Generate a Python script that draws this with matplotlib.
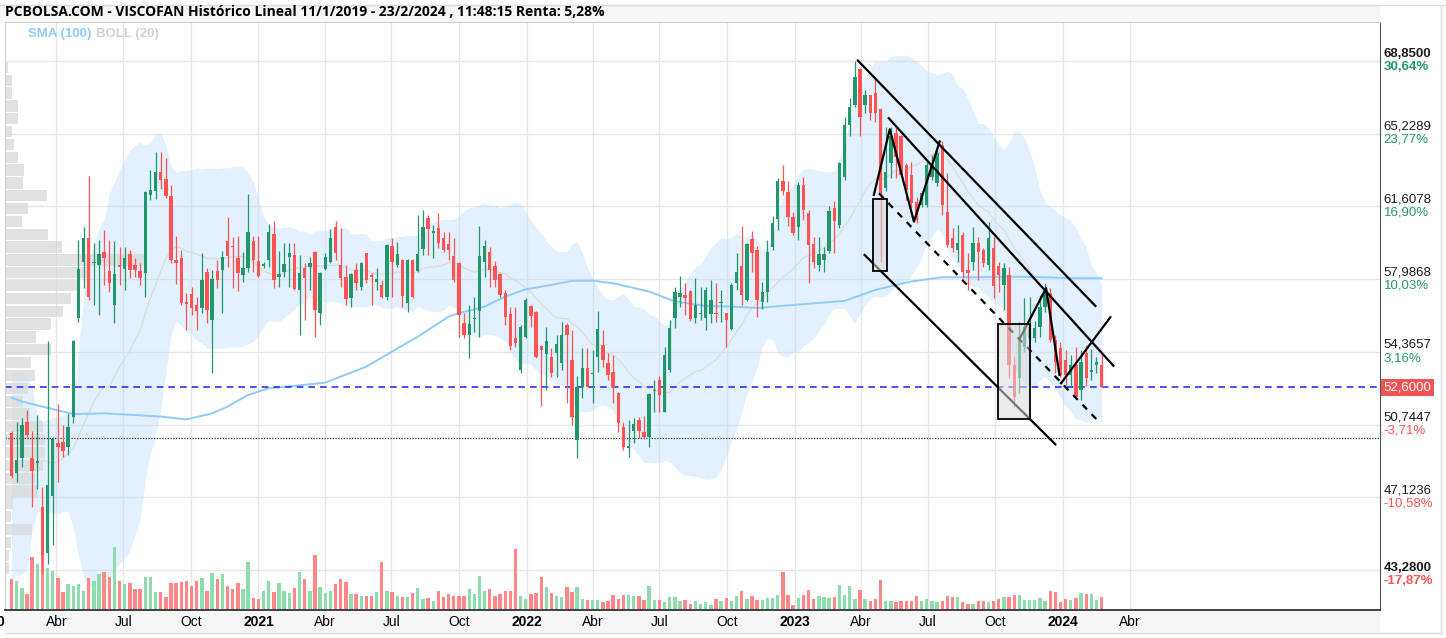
import math
import numpy as np
import pandas as pd
import matplotlib
matplotlib.use("Agg")
import matplotlib.pyplot as plt
import matplotlib.dates as mdates
from matplotlib.patches import Rectangle
from matplotlib.lines import Line2D
from datetime import datetime

plt.rcParams['font.family'] = ['Liberation Sans', 'DejaVu Sans']

# velas semanales VISCOFAN (EUR), la última es la semana del 23/2/2024
apertura = [
    50.31, 48.32, 49.07, 50.89, 49.07, 48.85, 46.62, 44.33, 47.19, 49.81,
    49.90, 49.65, 51.14, 56.04, 58.86, 60.05, 58.78, 58.69, 59.36, 58.41,
    56.70, 58.70, 58.48, 59.24, 58.70, 58.41, 58.28, 62.18, 62.39, 63.34,
    62.96, 62.15, 58.94, 59.03, 56.87, 57.25, 56.70, 56.54, 58.36, 55.95,
    58.41, 58.44, 59.90, 59.66, 59.03, 58.20, 58.53, 59.89, 58.91, 58.66,
    58.94, 60.24, 58.08, 58.36, 59.07, 59.19, 57.45, 58.53, 58.58, 59.36,
    56.32, 58.48, 58.86, 60.57, 58.69, 58.08, 57.03, 58.44, 57.58, 59.27,
    58.20, 57.86, 57.70, 57.12, 59.64, 58.69, 58.94, 56.78, 58.94, 58.41,
    59.47, 61.02, 60.30, 60.55, 60.02, 59.72, 59.14, 58.81, 55.79, 55.20,
    56.00, 56.42, 58.86, 59.36, 58.64, 58.24, 57.31, 56.25, 55.07, 53.46,
    55.12, 56.65, 56.37, 54.66, 54.26, 54.10, 54.29, 53.80, 55.70, 53.96,
    49.98, 52.63, 53.55, 53.25, 54.13, 54.71, 53.83, 53.38, 52.34, 50.64,
    49.60, 50.44, 50.97, 50.39, 50.11, 52.42, 52.97, 51.39, 53.46, 56.04,
    57.12, 57.20, 57.41, 56.04, 56.25, 56.04, 56.25, 56.30, 56.80, 56.28,
    55.49, 57.81, 58.64, 56.95, 59.97, 59.44, 56.87, 57.37, 59.61, 60.97,
    62.89, 62.30, 61.10, 60.57, 62.68, 61.30, 59.74, 58.70, 58.94, 59.41,
    61.52, 60.69, 63.09, 65.67, 66.66, 68.44, 66.66, 67.16, 67.24, 66.45,
    62.51, 63.76, 65.25, 65.09, 63.67, 63.18, 61.85, 61.68, 61.68, 63.09,
    62.76, 64.67, 61.35, 60.02, 59.44, 60.19, 58.44, 58.86, 59.77, 59.44,
    58.69, 59.52, 58.65, 57.70, 58.20, 53.71, 53.05, 54.63, 55.04, 55.04,
    55.62, 56.62, 57.28, 54.96, 54.54, 53.96, 53.22, 53.71, 52.47, 54.30,
    53.38, 53.72, 53.72]
maximo = [
    50.40, 50.89, 51.06, 51.47, 50.43, 51.22, 47.65, 54.92, 50.10, 51.77,
    50.72, 51.27, 54.96, 59.94, 60.60, 63.13, 59.77, 59.94, 60.44, 59.94,
    59.86, 59.60, 59.60, 59.44, 59.03, 58.78, 62.35, 63.42, 64.34, 64.34,
    64.00, 62.68, 60.14, 59.44, 57.28, 57.61, 57.12, 59.27, 58.53, 58.44,
    58.94, 59.40, 61.10, 60.10, 60.14, 59.36, 62.21, 60.15, 60.14, 58.85,
    60.73, 60.90, 59.40, 59.77, 59.77, 59.77, 59.19, 58.78, 59.11, 59.40,
    58.35, 59.27, 60.47, 60.90, 60.52, 58.69, 58.30, 58.78, 58.86, 59.30,
    58.28, 58.53, 57.95, 59.74, 60.02, 59.85, 58.97, 58.97, 58.97, 61.18,
    61.43, 61.18, 60.68, 61.30, 60.35, 60.35, 60.02, 58.86, 56.29, 56.70,
    57.12, 60.63, 59.94, 59.61, 58.91, 58.28, 57.45, 56.62, 56.62, 55.70,
    57.03, 56.70, 56.40, 54.70, 55.62, 54.54, 55.21, 55.87, 55.79, 55.46,
    53.17, 54.54, 54.54, 54.46, 56.40, 55.46, 54.29, 54.21, 52.38, 50.89,
    50.96, 51.06, 51.14, 51.17, 52.30, 52.97, 53.17, 54.59, 55.95, 57.61,
    58.15, 57.81, 57.45, 58.03, 57.61, 57.61, 57.95, 57.78, 57.45, 56.32,
    57.81, 59.27, 60.63, 59.77, 60.40, 59.64, 57.86, 59.94, 61.13, 63.01,
    63.67, 62.89, 61.35, 62.84, 63.09, 61.43, 60.07, 60.07, 59.61, 61.63,
    61.90, 63.84, 66.08, 66.99, 68.85, 68.49, 67.41, 67.16, 67.94, 66.50,
    65.55, 65.55, 65.62, 65.17, 63.76, 63.84, 62.10, 62.35, 63.84, 64.18,
    64.40, 64.84, 63.26, 60.52, 60.69, 60.35, 59.27, 60.60, 60.10, 59.52,
    60.85, 60.10, 58.86, 58.78, 58.61, 54.13, 55.87, 57.03, 57.10, 55.90,
    57.20, 57.78, 57.53, 55.21, 54.88, 54.46, 54.20, 54.63, 54.46, 54.71,
    54.50, 54.10, 54.30]
minimo = [
    48.10, 47.90, 48.65, 50.10, 46.66, 47.52, 43.28, 43.80, 44.75, 47.90,
    49.15, 49.23, 50.80, 55.87, 57.53, 56.95, 56.70, 56.20, 57.70, 57.36,
    55.82, 57.70, 57.45, 58.03, 58.11, 57.70, 57.12, 61.93, 61.96, 62.46,
    62.01, 58.78, 57.75, 56.70, 55.46, 56.20, 55.46, 56.29, 55.79, 53.30,
    57.53, 56.29, 58.61, 57.53, 57.41, 57.86, 58.36, 58.36, 58.11, 58.55,
    58.61, 57.53, 57.61, 58.11, 57.61, 57.45, 55.20, 55.95, 57.45, 55.12,
    55.70, 58.44, 58.78, 58.94, 57.61, 56.70, 56.62, 57.45, 57.45, 57.78,
    56.70, 57.45, 57.03, 56.95, 57.12, 58.61, 56.62, 56.37, 57.03, 58.36,
    59.19, 59.19, 59.02, 59.52, 59.36, 58.94, 57.86, 55.12, 55.04, 54.05,
    55.37, 55.12, 58.11, 57.61, 57.61, 57.12, 55.70, 54.46, 54.63, 53.30,
    55.04, 55.62, 54.05, 51.67, 52.47, 53.13, 53.13, 53.46, 51.80, 50.72,
    49.06, 52.05, 52.63, 51.80, 53.38, 53.63, 52.97, 51.80, 50.39, 49.48,
    49.15, 49.81, 50.06, 50.01, 49.64, 51.39, 51.39, 51.39, 53.38, 55.54,
    56.62, 56.20, 55.92, 55.79, 55.95, 55.46, 55.79, 55.87, 55.87, 54.63,
    55.46, 57.45, 56.70, 56.90, 58.36, 56.12, 56.48, 56.87, 59.44, 60.44,
    62.18, 60.63, 60.19, 59.94, 60.93, 57.78, 58.53, 58.41, 58.36, 59.27,
    59.27, 60.52, 62.93, 65.09, 66.58, 65.09, 66.25, 65.92, 65.83, 58.86,
    62.35, 63.01, 63.01, 63.09, 61.93, 61.60, 60.77, 61.60, 61.60, 62.90,
    62.60, 61.18, 59.61, 59.36, 58.86, 58.03, 57.45, 58.44, 57.95, 58.61,
    58.44, 57.03, 57.37, 56.45, 53.05, 51.64, 52.30, 54.38, 54.96, 54.88,
    55.12, 56.37, 54.88, 53.30, 53.13, 52.72, 52.65, 52.05, 51.97, 52.64,
    52.95, 53.30, 52.60]
cierre = [
    48.18, 48.98, 50.73, 50.23, 48.45, 48.88, 44.25, 47.71, 50.01, 49.61,
    49.45, 50.64, 54.91, 58.48, 60.05, 57.12, 58.86, 59.24, 59.03, 57.78,
    58.25, 58.60, 59.03, 58.44, 58.44, 58.03, 62.30, 62.43, 63.34, 62.93,
    62.13, 58.94, 58.80, 56.78, 56.75, 56.54, 56.42, 57.95, 56.45, 57.98,
    57.95, 59.11, 59.14, 59.60, 58.31, 58.56, 60.35, 58.94, 58.15, 58.72,
    60.35, 57.95, 58.25, 58.74, 59.27, 57.48, 58.31, 58.03, 58.81, 56.45,
    58.31, 59.07, 60.02, 59.27, 58.06, 56.98, 58.24, 57.78, 58.81, 57.95,
    58.11, 57.98, 57.12, 59.69, 58.83, 59.24, 57.15, 58.94, 57.12, 59.24,
    60.60, 60.47, 60.37, 59.77, 59.44, 59.44, 57.95, 56.20, 55.20, 55.75,
    56.06, 59.14, 59.66, 58.44, 57.95, 57.20, 56.12, 54.66, 54.79, 55.62,
    56.95, 56.15, 54.10, 54.46, 54.92, 53.33, 54.76, 55.21, 55.21, 51.14,
    52.63, 53.55, 52.63, 53.30, 55.49, 53.96, 53.20, 52.63, 50.81, 49.64,
    49.68, 50.76, 50.44, 50.11, 52.27, 52.47, 52.22, 54.21, 55.54, 57.37,
    57.28, 57.03, 55.99, 56.70, 56.30, 57.45, 56.95, 56.25, 56.85, 55.95,
    57.70, 58.36, 57.20, 59.74, 59.27, 56.95, 57.37, 59.36, 60.80, 62.89,
    62.39, 61.10, 60.27, 62.68, 61.43, 59.69, 58.86, 59.24, 59.24, 61.40,
    60.90, 63.79, 65.67, 66.58, 68.07, 66.05, 67.16, 66.25, 66.25, 62.26,
    63.34, 65.09, 64.09, 63.18, 62.43, 61.77, 60.94, 62.26, 63.67, 63.67,
    64.26, 61.68, 59.69, 59.52, 59.77, 58.36, 58.28, 59.77, 59.36, 58.78,
    60.02, 57.62, 58.20, 58.53, 53.71, 52.14, 55.04, 55.62, 55.59, 55.54,
    56.62, 57.28, 54.96, 53.88, 53.22, 53.22, 53.71, 52.14, 53.88, 53.05,
    53.47, 53.88, 52.60]
# volumen semanal (miles de títulos, aprox.)
volumen = [
    307, 293, 217, 157, 533, 457, 550, 420, 393, 317,
    183, 257, 243, 257, 190, 317, 293, 357, 383, 333,
    633, 293, 257, 267, 207, 207, 333, 333, 183, 183,
    127, 267, 267, 277, 293, 243, 293, 317, 193, 367,
    307, 357, 243, 207, 267, 207, 480, 117, 107, 190,
    293, 183, 267, 193, 167, 217, 380, 307, 193, 553,
    233, 167, 193, 257, 307, 283, 157, 157, 143, 143,
    143, 183, 480, 193, 177, 143, 127, 127, 167, 217,
    107, 117, 93, 193, 127, 157, 143, 143, 143, 207,
    157, 343, 193, 207, 143, 157, 193, 193, 607, 143,
    107, 157, 173, 333, 233, 167, 143, 127, 227, 177,
    227, 110, 100, 100, 100, 77, 87, 150, 110, 150,
    150, 143, 137, 100, 237, 100, 100, 83, 127, 127,
    87, 100, 60, 87, 60, 77, 53, 110, 87, 120,
    87, 137, 187, 110, 137, 100, 100, 120, 120, 150,
    377, 150, 50, 120, 150, 200, 110, 137, 127, 120,
    127, 250, 150, 237, 110, 200, 110, 87, 110, 300,
    87, 87, 83, 87, 87, 87, 143, 87, 110, 87,
    77, 87, 143, 127, 127, 77, 60, 60, 87, 87,
    77, 87, 110, 127, 127, 150, 150, 100, 100, 100,
    120, 87, 187, 177, 77, 110, 100, 120, 167, 157,
    157, 100, 127]

# Bollinger (20) de las 19 primeras semanas (su ventana empieza antes del tramo visible)
boll_sup_ini = [53.3, 53.4, 53.4, 53.1, 52.6, 51.2, 50.9, 51.0, 51.1, 51.1,
                51.2, 51.3, 51.9, 54.5, 57.0, 58.6, 59.8, 60.5, 61.0]
boll_med_ini = [47.07, 47.49, 47.99, 48.40, 48.65, 48.82, 48.98, 48.90, 48.82, 48.90,
                49.06, 49.31, 49.60, 50.15, 50.73, 51.30, 51.89, 52.30, 52.63]
boll_inf_ini = [43.0, 43.2, 43.3, 43.5, 45.5, 46.4, 46.4, 46.4, 46.3, 46.3,
                46.4, 46.4, 45.6, 44.2, 43.2, 42.8, 42.5, 42.3, 42.3]

sma_semana = [1, 3, 7, 11, 13, 19, 25, 30, 35, 40, 43, 47, 51, 54, 62, 65, 70, 75,
              80, 86, 88, 93, 97, 101, 106, 110, 114, 118, 125, 130, 136, 141, 146,
              153, 159, 163, 169, 176, 182, 189, 195, 202, 208, 213]
sma_valor = [52.09, 51.89, 51.64, 51.39, 51.27, 51.30, 51.22, 51.14, 51.00, 51.30,
             51.64, 52.22, 52.55, 52.62, 52.83, 53.13, 53.63, 54.38, 55.12, 56.12,
             56.29, 56.62, 57.12, 57.48, 57.70, 57.90, 57.91, 57.78, 57.37, 56.87,
             56.65, 56.62, 56.55, 56.70, 56.82, 56.90, 57.45, 57.87, 58.08, 58.08,
             58.11, 58.08, 58.03, 58.03]

# perfil de volumen por niveles de precio (40 niveles, de abajo a arriba)
perfil = [4, 4, 6, 27, 6, 8, 33, 30, 38, 40,
          40, 38, 25, 18, 23, 30, 26, 46, 31, 46,
          58, 66, 75, 83, 140, 57, 43, 17, 23, 42,
          18, 19, 13, 9, 7, 13, 13, 7, 7, 3]

precio_max, precio_min = 68.85, 43.28
precio_ref = 52.70
precio_actual = 52.60
precio_punteado = 50.08
etiquetas_precio = [68.85, 65.2289, 61.6078, 57.9868, 54.3657, 50.7447, 47.1236, 43.28]
niveles_grid = [68.85, 65.2289, 61.6078, 57.9868, 54.3657, 50.7447, 47.1236, 43.5025]

# trazos dibujados (semana, precio)
rectas = [([165.6, 211.8], [68.87, 56.65], '-'),
          ([171.6, 215.3], [66.00, 53.67], '-'),
          ([166.9, 204.0], [59.19, 49.76], '-'),
          ([169.7, 212.1], [62.26, 50.98], '--'),
          ([168.7, 171.8, 176.5, 181.5], [62.18, 65.45, 60.85, 64.84], '-'),
          ([197.0, 202.2, 204.8], [54.99, 57.53, 53.22], '-'),
          ([205.1, 214.7], [52.80, 56.09], '-')]
cajas = [(168.5, 171.2, 58.41, 61.97), (192.9, 199.0, 51.01, 55.74)]

titulo = "PCBOLSA.COM - VISCOFAN Histórico Lineal 11/1/2019 - 23/2/2024 , 11:48:15 Renta: 5,28%"

VERDE = '#22976b'
ROJO = '#ff5252'

W, H = 1446, 638
fig = plt.figure(figsize=(W / 100, H / 100), dpi=100)
L, R, T, B = 5, 1380, 22, 610
ax = fig.add_axes([L / W, 1 - B / H, (R - L) / W, (B - T) / H])

# franjas grises del título y del eje x, y marco exterior
fig.add_artist(Rectangle((0, 1 - 23 / H), R / W, 18 / H, transform=fig.transFigure,
                         fc='#f6f6f6', ec='none', zorder=0))
fig.add_artist(Rectangle((L / W, 1 - 632 / H), (R - L) / W, 21 / H, transform=fig.transFigure,
                         fc='#f6f6f6', ec='none', zorder=0))
for xs, ys in (([0, 1], [1 - 4.5 / H] * 2), ([L / W, 1441 / W], [1 - 632.5 / H] * 2),
               ([1441 / W] * 2, [1 - 632.5 / H, 1 - 4.5 / H])):
    fig.add_artist(Line2D(xs, ys, color='#dcdcdc', lw=1, transform=fig.transFigure))

fechas = pd.date_range(end="2024-02-23", periods=len(cierre), freq="7D")
x = mdates.date2num(fechas.to_pydatetime())


def sem(k):
    return x[0] + (np.asarray(k, dtype=float) - 1) * 7


o, h, l, c = map(np.array, (apertura, maximo, minimo, cierre))
sube = c >= o
col = np.where(sube, VERDE, ROJO)

# bandas de Bollinger y medias
s = pd.Series(c)
med = s.rolling(20).mean().to_numpy()
dev = s.rolling(20).std(ddof=0).to_numpy()
sup, inf = med + 2 * dev, med - 2 * dev
n0 = len(boll_sup_ini)
sup[:n0], med[:n0], inf[:n0] = boll_sup_ini, boll_med_ini, boll_inf_ini
ax.fill_between(x, inf, sup, color='#bbdefb', alpha=0.42, lw=0, zorder=1)
ax.plot(x, med, color='#dcdcdc', lw=1.0, zorder=2)
ax.plot(sem(sma_semana), sma_valor, color='#90caf9', lw=1.4, zorder=2)

# perfil de volumen a la izquierda
axp = ax.inset_axes([0, 0, 1, 1], sharey=ax, zorder=1.5)
bordes = np.linspace(precio_min, precio_max, len(perfil) + 1)
paso = bordes[1] - bordes[0]
axp.barh(bordes[:-1] + paso / 2, perfil, height=paso * 0.88, color='#d8d8d8', alpha=0.72)
axp.set_xlim(0, max(perfil) / 0.102)
axp.axis('off')
axp.patch.set_visible(False)

# volumen abajo
axv = ax.inset_axes([0, 0, 1, 1], sharex=ax, zorder=1.8)
axv.bar(x, volumen, width=4.6, color=np.where(sube, '#8ddcab', '#ff8787'))
axv.set_ylim(0, 5880)
axv.axis('off')
axv.patch.set_visible(False)

# velas
ax.vlines(x, l, h, colors=col, lw=0.9, zorder=3)
ax.bar(x, np.maximum(np.abs(c - o), 0.06), bottom=np.minimum(o, c), width=4.6,
       color=col, zorder=3.1)

ax.axhline(precio_actual, color='#2f2fff', lw=1.2, ls=(0, (4, 3)), zorder=2.5)
ax.axhline(precio_punteado, color='#333333', lw=0.9, ls=(0, (1, 1.2)), zorder=2.5)

for ks, ps, estilo in rectas:
    ax.plot(sem(ks), ps, color='black', lw=1.6, ls=estilo, zorder=4,
            dashes=(3, 3) if estilo == '--' else (None, None))
for k1, k2, p1, p2 in cajas:
    ax.add_patch(Rectangle((sem(k1), p1), sem(k2) - sem(k1), p2 - p1, fc=(0.86, 0.86, 0.86, 0.55),
                           ec='black', lw=1.3, zorder=4))

ax.set_xlim(mdates.date2num(datetime(2020, 1, 22)), mdates.date2num(datetime(2025, 3, 8)))
ax.set_ylim(41.51, 70.79)

# eje x
marcas = [d.to_pydatetime() for d in pd.date_range("2020-04-01", "2024-04-01", freq="QS-JAN")]
meses = {1: '', 4: 'Abr', 7: 'Jul', 10: 'Oct'}
ax.set_xticks(mdates.date2num(marcas))
ax.set_xticklabels([str(d.year) if d.month == 1 else meses[d.month] for d in marcas], fontsize=10)
for lbl, d in zip(ax.get_xticklabels(), marcas):
    if d.month == 1:
        lbl.set_fontweight('bold')
ax.annotate("2020", xy=(mdates.date2num(datetime(2020, 1, 1)), 0), xycoords=('data', 'axes fraction'),
            xytext=(0, -3.5), textcoords='offset points', ha='center', va='top', fontsize=10,
            fontweight='bold', annotation_clip=False)
ax.tick_params(axis='x', length=0, pad=3.5)

# eje y a la derecha
ax.set_yticks(niveles_grid)
ax.tick_params(axis='y', length=0, labelleft=False, labelright=False)
ax.grid(True, color='#e6e6e6', lw=1)
ax.set_axisbelow(True)
for v in etiquetas_precio:
    extremo = v in (precio_max, precio_min)
    peso = 'bold' if extremo else 'normal'
    ax.annotate(f"{v:.4f}".replace('.', ','), xy=(1, v), xycoords=('axes fraction', 'data'),
                xytext=(2.5, 5), textcoords='offset points', va='center', ha='left',
                fontsize=9.5, fontweight=peso, color='#1a1a1a', annotation_clip=False)
    pct = math.trunc((v / precio_ref - 1) * 10000) / 100
    ax.annotate(f"{pct:.2f}%".replace('.', ','), xy=(1, v), xycoords=('axes fraction', 'data'),
                xytext=(2.5, -4.5), textcoords='offset points', va='center', ha='left',
                fontsize=9.5, fontweight=peso, color=VERDE if pct > 0 else ROJO,
                annotation_clip=False)
ax.annotate(f"{precio_actual:.4f}".replace('.', ','), xy=(1, precio_actual),
            xycoords=('axes fraction', 'data'), xytext=(2.5, 0), textcoords='offset points',
            va='center', ha='left', fontsize=9.5, color='white', annotation_clip=False,
            bbox=dict(boxstyle='square,pad=0.2', fc='#f25353', ec='none'))

for lado in ('left', 'top'):
    ax.spines[lado].set_color('#d0d0d0')
ax.spines['bottom'].set_color('#333333')
ax.spines['bottom'].set_linewidth(1.3)
ax.spines['right'].set_color('#555555')

fig.text(5 / W, 1 - 12.5 / H, titulo, fontsize=10, fontweight='bold', family=['Open Sans', 'DejaVu Sans'],
         va='center', ha='left')
fig.text(28 / W, 1 - 34 / H, "SMA (100)", fontsize=9.5, fontweight='bold', color='#90caf9',
         va='center', ha='left')
fig.text(96 / W, 1 - 34 / H, "BOLL (20)", fontsize=9.5, fontweight='bold', color='#d2d2d2',
         va='center', ha='left')

fig.savefig("out.png", dpi=100)
